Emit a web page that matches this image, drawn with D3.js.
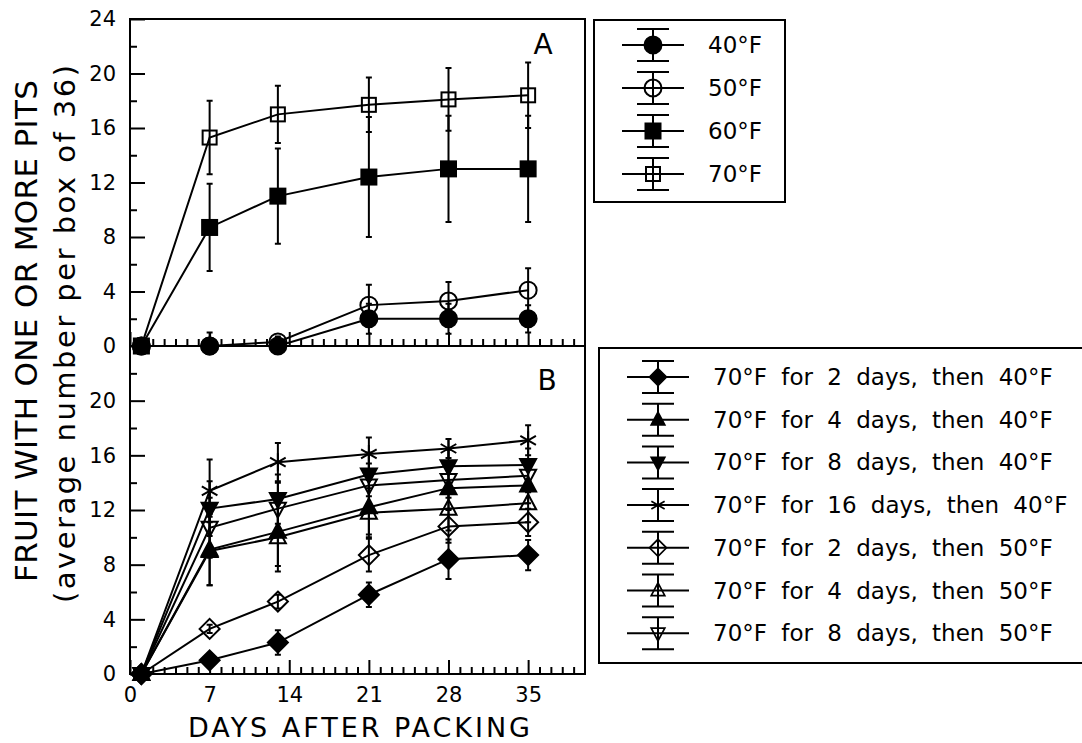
<!DOCTYPE html>
<html lang="en">
<head>
  <meta charset="UTF-8">
  <title>Fruit with pits</title>
  <style>
    body { margin:0; background:#fff; overflow:hidden; }
    #chart { display:block; }
    text { font-family: "DejaVu Sans", sans-serif; fill:#000; }
  </style>
</head>
<body>
  <svg id="chart" width="1082" height="743"></svg>
  <script src="https://d3js.org/d3.v7.min.js"></script>
  <script>
    // sampling days
    const days = [1, 7, 13, 21, 28, 35];

    // panel A: constant storage temperature
    const labelsA = ['40°F', '50°F', '60°F', '70°F'];
    const symbolsA = ['circleF', 'circleO', 'squareF', 'squareO'];
    const a40 = [0, 0, 0, 2.0, 2.0, 2.0];
    const a40err = [0, 1.0, 0.4, 1.1, 1.1, 1.0];
    const a50 = [0, 0, 0.3, 3.0, 3.3, 4.1];
    const a50err = [0, 0, 0.4, 1.5, 1.4, 1.6];
    const a60 = [0, 8.7, 11.0, 12.4, 13.0, 13.0];
    const a60err = [0, 3.2, 3.5, 4.4, 3.9, 3.9];
    const a70 = [0, 15.3, 17.0, 17.7, 18.1, 18.4];
    const a70err = [0, 2.7, 2.1, 2.0, 2.3, 2.4];

    // panel B: 70°F first, then cold storage
    const labelsB = [
      '70°F for 2 days, then 40°F', '70°F for 4 days, then 40°F',
      '70°F for 8 days, then 40°F', '70°F for 16 days, then 40°F',
      '70°F for 2 days, then 50°F', '70°F for 4 days, then 50°F',
      '70°F for 8 days, then 50°F'];
    const symbolsB = ['diamondF', 'triUpF', 'triDownF', 'star', 'diamondO', 'triUpO', 'triDownO'];
    const b2to40 = [0, 1.0, 2.3, 5.8, 8.4, 8.7];
    const b2to40err = [0, 0.3, 0.9, 0.9, 1.45, 1.1];
    const b4to40 = [0, 9.1, 10.4, 12.2, 13.6, 13.8];
    const b4to40err = [0, 2.6, 2.5, 2.0, 1.5, 1.3];
    const b8to40 = [0, 12.1, 12.8, 14.6, 15.2, 15.3];
    const b8to40err = [0, 2.0, 1.8, 1.6, 1.2, 1.2];
    const b16to40 = [0, 13.4, 15.5, 16.1, 16.5, 17.1];
    const b16to40err = [0, 2.3, 1.4, 1.2, 0.7, 1.1];
    const b2to50 = [0, 3.3, 5.3, 8.7, 10.8, 11.1];
    const b2to50err = [0, 0.3, 0.5, 1.2, 1.2, 1.0];
    const b4to50 = [0, 9.0, 10.0, 11.8, 12.1, 12.5];
    const b4to50err = [0, 2.5, 2.5, 1.8, 1.6, 1.4];
    const b8to50 = [0, 10.7, 12.1, 13.8, 14.2, 14.5];
    const b8to50err = [0, 2.2, 1.9, 1.6, 1.3, 1.2];

    const xMajor = [0, 7, 14, 21, 28, 35];
    const yMajorA = [0, 4, 8, 12, 16, 20, 24];
    const yMajorB = [0, 4, 8, 12, 16, 20];

    const seriesA = [[a40, a40err], [a50, a50err], [a60, a60err], [a70, a70err]];
    const seriesB = [[b2to40, b2to40err], [b4to40, b4to40err], [b8to40, b8to40err], [b16to40, b16to40err],
                     [b2to50, b2to50err], [b4to50, b4to50err], [b8to50, b8to50err]];

    const svg = d3.select('#chart');
    const left = 130, right = 585;
    const x = d3.scaleLinear().domain([0, 40]).range([left, right]);
    const yA = d3.scaleLinear().domain([0, 24]).range([346, 19]);
    const yB = d3.scaleLinear().domain([0, 24]).range([674, 346]);

    // marker drawing
    function marker(g, type) {
      const s = g.append('g');
      if (type === 'circleF' || type === 'circleO') {
        s.append('circle').attr('r', 8.5);
      } else if (type === 'squareF') {
        s.append('rect').attr('x', -7.5).attr('y', -7.5).attr('width', 15).attr('height', 15);
      } else if (type === 'squareO') {
        s.append('rect').attr('x', -7).attr('y', -7).attr('width', 14).attr('height', 14);
      } else if (type.startsWith('diamond')) {
        s.append('path').attr('d', 'M0,-10L10,0L0,10L-10,0Z');
      } else if (type.startsWith('triUp')) {
        s.append('path').attr('d', 'M0,-9L8,6L-8,6Z');
      } else if (type.startsWith('triDown')) {
        s.append('path').attr('d', 'M0,9L8,-6L-8,-6Z');
      } else if (type === 'star') {
        s.append('path').attr('d', 'M0,-9L0,9M-7.8,-4.5L7.8,4.5M-7.8,4.5L7.8,-4.5');
      }
      const filled = type.endsWith('F');
      s.selectAll('*')
        .attr('fill', type === 'star' ? 'none' : (filled ? '#000' : '#fff'))
        .attr('fill-opacity', filled ? 1 : 0)
        .attr('stroke', '#000')
        .attr('stroke-width', 2);
      return s;
    }

    function drawPanel(y, series, symbols, clipId, y0, y1) {
      svg.append('clipPath').attr('id', clipId).append('rect')
        .attr('x', left).attr('y', y1).attr('width', right - left + 20).attr('height', y0 - y1);
      const g = svg.append('g').attr('clip-path', `url(#${clipId})`);
      const line = d3.line().x((d, i) => x(days[i])).y(d => y(d));
      series.forEach(([vals, errs], k) => {
        // error bars
        vals.forEach((v, i) => {
          if (!errs[i]) return;
          const lo = y(Math.max(0, v - errs[i])), hi = y(v + errs[i]), cx = x(days[i]);
          g.append('path')
            .attr('d', `M${cx},${lo}L${cx},${hi}M${cx - 3},${hi}L${cx + 3},${hi}` +
              (v - errs[i] > 0 ? `M${cx - 3},${lo}L${cx + 3},${lo}` : ''))
            .attr('stroke', '#000').attr('stroke-width', 2).attr('fill', 'none');
        });
        g.append('path').datum(vals).attr('d', line)
          .attr('fill', 'none').attr('stroke', '#000').attr('stroke-width', 2);
      });
      series.forEach(([vals], k) => {
        vals.forEach((v, i) => {
          marker(svg, symbols[k]).attr('transform', `translate(${x(days[i])},${y(v)})`);
        });
      });
    }

    drawPanel(yA, seriesA, symbolsA, 'clipA', 346, 19);
    drawPanel(yB, seriesB, symbolsB, 'clipB', 674, 346);

    // frames
    svg.append('rect').attr('x', left).attr('y', 19).attr('width', right - left).attr('height', 655)
      .attr('fill', 'none').attr('stroke', '#000').attr('stroke-width', 2);
    svg.append('line').attr('x1', left).attr('x2', right).attr('y1', 346).attr('y2', 346)
      .attr('stroke', '#000').attr('stroke-width', 2);

    // axes
    function styleAxis(g) {
      g.select('.domain').remove();
      g.selectAll('.tick line').attr('stroke', '#000').attr('stroke-width', 2);
      g.selectAll('.tick text').style('font-size', '21px').style('font-family', '"DejaVu Sans", sans-serif');
    }
    const minorX = d3.range(1, 40).filter(d => d % 7 !== 0);
    [346, 674].forEach((py, idx) => {
      svg.append('g').attr('transform', `translate(0,${py})`)
        .call(d3.axisBottom(x).tickValues(minorX).tickSize(-7).tickFormat(''))
        .call(styleAxis);
      svg.append('g').attr('transform', `translate(0,${py})`)
        .call(d3.axisBottom(x).tickValues(xMajor).tickSize(-14).tickPadding(13)
          .tickFormat(idx === 1 ? d3.format('d') : ''))
        .call(styleAxis);
    });
    [[yA, yMajorA], [yB, yMajorB]].forEach(([y, maj]) => {
      svg.append('g').attr('transform', `translate(${left},0)`)
        .call(d3.axisLeft(y).tickValues([2, 6, 10, 14, 18, 22]).tickSize(-7).tickFormat(''))
        .call(styleAxis);
      svg.append('g').attr('transform', `translate(${left},0)`)
        .call(d3.axisLeft(y).tickValues(maj).tickSize(-15).tickPadding(14).tickFormat(d3.format('d')))
        .call(styleAxis);
    });

    // panel letters
    svg.append('text').attr('x', 543).attr('y', 54).attr('text-anchor', 'middle')
      .style('font-size', '28px').text('A');
    svg.append('text').attr('x', 547).attr('y', 390).attr('text-anchor', 'middle')
      .style('font-size', '28px').text('B');

    // axis titles
    svg.append('text').attr('x', 359).attr('y', 737).attr('text-anchor', 'middle')
      .attr('textLength', 342).attr('lengthAdjust', 'spacing')
      .style('font-size', '27px').text('DAYS AFTER PACKING');
    svg.append('text').attr('transform', 'translate(37,331) rotate(-90)').attr('text-anchor', 'middle')
      .attr('textLength', 502).attr('lengthAdjust', 'spacing')
      .style('font-size', '31px').text('FRUIT WITH ONE OR MORE PITS');
    svg.append('text').attr('transform', 'translate(75,334) rotate(-90)').attr('text-anchor', 'middle')
      .attr('textLength', 538).attr('lengthAdjust', 'spacing')
      .style('font-size', '29px').text('(average number per box of 36)');

    // legends
    function legend(x0, y0, w, h, cx, tx, rows, labels, symbols, ws, ms) {
      svg.append('rect').attr('x', x0).attr('y', y0).attr('width', w).attr('height', h)
        .attr('fill', '#fff').attr('stroke', '#000').attr('stroke-width', 2);
      labels.forEach((lab, i) => {
        const ry = rows(i);
        svg.append('path')
          .attr('d', `M${cx - 31},${ry}L${cx + 31},${ry}M${cx},${ry - 16}L${cx},${ry + 16}` +
            `M${cx - 16},${ry - 16}L${cx + 16},${ry - 16}M${cx - 16},${ry + 16}L${cx + 16},${ry + 16}`)
          .attr('stroke', '#000').attr('stroke-width', 2).attr('fill', 'none');
        marker(svg, symbols[i]).attr('transform', `translate(${cx},${ry}) scale(${ms})`);
        svg.append('text').attr('x', tx).attr('y', ry + 8).style('font-size', '23px')
          .style('word-spacing', ws + 'px').text(lab);
      });
    }
    legend(594, 20, 191, 182, 653, 708, i => 45 + i * 43, labelsA, symbolsA, 0, 1);
    legend(599, 348, 500, 315, 658, 713, i => 377 + i * 42.7, labelsB, symbolsB, 7, 0.85);
  </script>
</body>
</html>
